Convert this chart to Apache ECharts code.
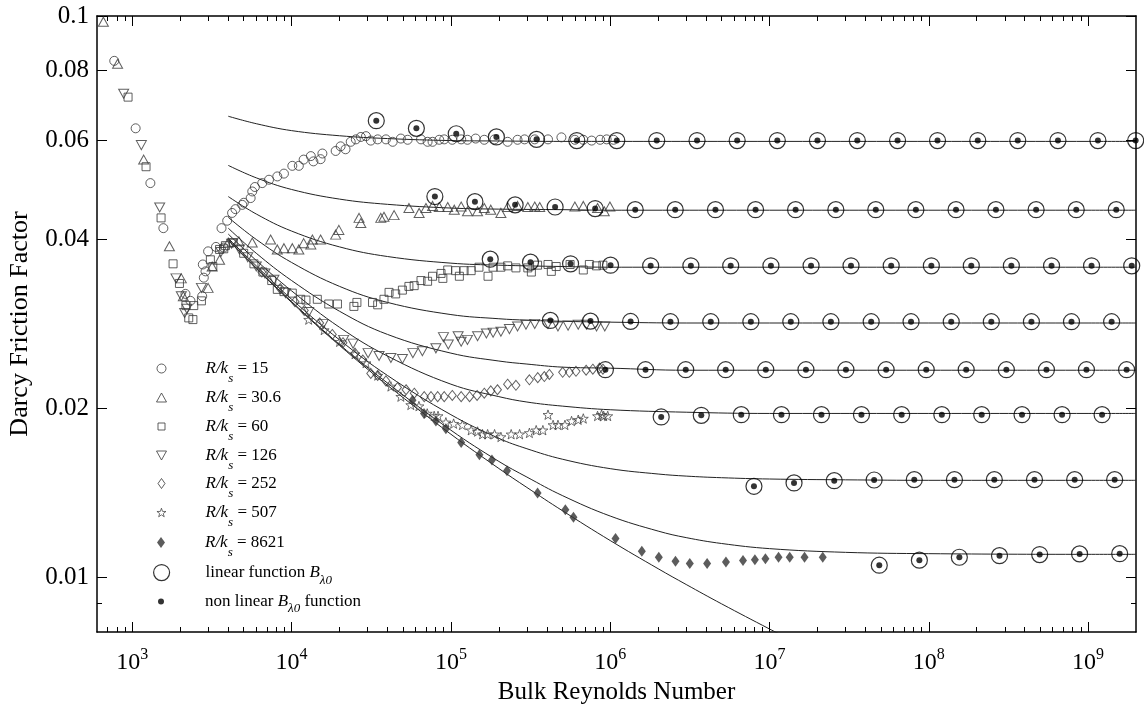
<!DOCTYPE html>
<html>
<head>
<meta charset="utf-8">
<script src="https://cdn.jsdelivr.net/npm/echarts@6/dist/echarts.min.js"></script>
<style>
  html, body { margin: 0; padding: 0; background: #fff; }
  #chart { width: 1144px; height: 706px; }
</style>
</head>
<body>
<div id="chart"></div>
<script>
const FONT = '"Liberation Serif", "Times New Roman", serif';

// ---- axis ticks and labels ----
const reMajorTicks = [1e3, 1e4, 1e5, 1e6, 1e7, 1e8, 1e9];
const reMinorTicks = [700, 800, 900,
  2e3, 3e3, 4e3, 5e3, 6e3, 7e3, 8e3, 9e3,
  2e4, 3e4, 4e4, 5e4, 6e4, 7e4, 8e4, 9e4,
  2e5, 3e5, 4e5, 5e5, 6e5, 7e5, 8e5, 9e5,
  2e6, 3e6, 4e6, 5e6, 6e6, 7e6, 8e6, 9e6,
  2e7, 3e7, 4e7, 5e7, 6e7, 7e7, 8e7, 9e7,
  2e8, 3e8, 4e8, 5e8, 6e8, 7e8, 8e8, 9e8];
const fMajorTicks = [0.01, 0.02, 0.04, 0.06, 0.08, 0.1];
const fMinorTicks = [0.009];

// ---- measured friction factors [Re, f] ----
const rk15 = [[770,0.0832],[1049,0.0631],[1298,0.0504],[1566,0.0419],[2155,0.0320],[2318,0.0311],[2745,0.0317],
  [2810,0.0342],[2880,0.0351],[2770,0.0361],[2990,0.0381],[3350,0.0388],[3750,0.0387],[3630,0.0419],[3940,0.0432],
  [4230,0.0446],[4440,0.0453],[4900,0.0461],[5010,0.0465],[5530,0.0474],[5660,0.0487],[5880,0.0496],[6540,0.0504],
  [7210,0.0511],[8130,0.0518],[8950,0.0524],[10100,0.0541],[11100,0.0541],[11900,0.0555],[13200,0.0563],[13700,0.0551],
  [15200,0.0556],[15600,0.0569],[18900,0.0575],[20300,0.0586],[21800,0.0579],[23500,0.0597],[25300,0.0603],[27200,0.0609],
  [29300,0.0611],[31400,0.0600],[34700,0.0603],[39100,0.0603],[43100,0.0597],[48500,0.0605],[53500,0.0602],[64900,0.0603],
  [71400,0.0597],[76700,0.0597],[84500,0.0602],[90800,0.0603],[102000,0.0602],[116000,0.0603],[127000,0.0602],[143000,0.0605],
  [162000,0.0602],[188000,0.0603],[227000,0.0597],[262000,0.0602],[290000,0.0603],[336000,0.0603],[407000,0.0603],
  [494000,0.0608],[600000,0.0602],[678000,0.0602],[765000,0.0600],[865000,0.0602],[950000,0.0603],[1050000,0.0602]];

const rk30 = [[658,0.0977],[808,0.0822],[1178,0.0555],[1709,0.0389],[2030,0.0341],[2090,0.0317],[2990,0.0328],[3170,0.0358],
  [3530,0.0368],[4000,0.0395],[4663,0.0397],[5660,0.0395],[7380,0.0400],[8130,0.0384],[8950,0.0386],[10100,0.0386],
  [11100,0.0384],[11900,0.0394],[13200,0.0392],[13500,0.0400],[15200,0.0400],[18900,0.0408],[19800,0.0416],[26500,0.0437],
  [27200,0.0428],[36300,0.0437],[38000,0.0439],[44000,0.0442],[54500,0.0455],[63200,0.0446],[69700,0.0455],[76700,0.0459],
  [84500,0.0457],[95500,0.0457],[105000,0.0452],[116000,0.0458],[127000,0.0449],[147000,0.0449],[162000,0.0455],
  [178000,0.0452],[206000,0.0446],[227000,0.0457],[262000,0.0459],[304000,0.0457],[336000,0.0458],[361000,0.0457],
  [600000,0.0458],[678000,0.0459],[833000,0.0455],[918000,0.0449],[996000,0.0458]];

const rk60 = [[940,0.0717],[1219,0.0539],[1515,0.0437],[1802,0.0362],[1976,0.0334],[2170,0.0305],[2430,0.0305],[2260,0.0290],
  [2400,0.0288],[2715,0.0311],[3090,0.0368],[3200,0.0358],[3530,0.0384],[3840,0.0390],[3750,0.0385],[4300,0.0395],
  [5000,0.0378],[5800,0.0362],[6600,0.0350],[7500,0.0338],[8130,0.0326],[8950,0.0323],[10100,0.0321],[11400,0.0313],
  [12300,0.0312],[14500,0.0313],[17100,0.0307],[19400,0.0307],[24600,0.0304],[25700,0.0309],[32200,0.0309],[34700,0.0306],
  [38000,0.0313],[40900,0.0322],[45000,0.0320],[49600,0.0325],[54500,0.0330],[58800,0.0331],[64900,0.0338],[71400,0.0337],
  [76700,0.0344],[86700,0.0348],[89000,0.0341],[95500,0.0353],[107000,0.0352],[113000,0.0344],[121000,0.0352],
  [134000,0.0352],[150000,0.0357],[171000,0.0344],[184000,0.0357],[206000,0.0357],[227000,0.0359],[256000,0.0356],
  [304000,0.0356],[320000,0.0350],[350000,0.0360],[407000,0.0361],[427000,0.0351],[458000,0.0358],[560000,0.0361],
  [678000,0.0353],[740000,0.0361],[820000,0.0359],[900000,0.0360]];

const rk126 = [[882,0.0727],[1139,0.0589],[1485,0.0456],[1880,0.0341],[2030,0.0317],[2130,0.0296],[2200,0.0301],
  [2715,0.0328],[3600,0.0380],[4200,0.0393],[4700,0.0384],[5300,0.0372],[6000,0.0358],[6800,0.0348],[7740,0.0339],
  [9160,0.0321],[12800,0.0297],[15800,0.0283],[21200,0.0265],[24300,0.0261],[30200,0.0251],[35400,0.0248],[42000,0.0246],
  [49600,0.0245],[57700,0.0251],[66200,0.0253],[80500,0.0256],[89800,0.0268],[96300,0.0260],[111000,0.0269],
  [116000,0.0263],[127000,0.0265],[147000,0.0269],[167000,0.0272],[184000,0.0273],[206000,0.0274],[233000,0.0277],
  [262000,0.0280],[296000,0.0282],[336000,0.0283],[407000,0.0283],[470000,0.0280],[544000,0.0281],[630000,0.0282],
  [710000,0.0282],[821000,0.0280],[925000,0.0280]];

const rk252 = [[6500,0.0350],[8500,0.0327],[10500,0.0310],[12000,0.0299],[15000,0.0284],[18000,0.0271],[21000,0.0262],
  [25000,0.0251],[28000,0.0244],[31400,0.0231],[34700,0.0229],[39100,0.0224],[46200,0.0218],[52300,0.0216],[58900,0.0213],
  [68000,0.0210],[75000,0.0210],[82600,0.0210],[90800,0.0210],[102000,0.0211],[116000,0.0210],[131000,0.0210],
  [146000,0.0211],[162000,0.0213],[178000,0.0215],[196000,0.0216],[227000,0.0221],[256000,0.0220],[311000,0.0225],
  [351000,0.0227],[386000,0.0228],[415000,0.0230],[503000,0.0232],[554000,0.0232],[610000,0.0233],[706000,0.0234],
  [778000,0.0235],[857000,0.0236],[900000,0.0235]];

const rk507 = [[12800,0.0288],[16000,0.0276],[20000,0.0263],[25000,0.0250],[29300,0.0241],[34700,0.0229],[42000,0.0219],
  [48500,0.0210],[56000,0.0203],[63000,0.0202],[71000,0.0196],[78500,0.0194],[83000,0.0194],[93000,0.0189],
  [104000,0.0188],[118000,0.0187],[134000,0.0183],[147000,0.0182],[158000,0.0180],[170000,0.0180],[188000,0.0180],
  [206000,0.0178],[239000,0.0180],[270000,0.0180],[311000,0.0181],[343000,0.0183],[378000,0.0183],[407000,0.0195],
  [438000,0.0187],[470000,0.0187],[520000,0.0187],[572000,0.0190],[630000,0.0191],[678000,0.0192],[833000,0.0194],
  [883000,0.0195],[910000,0.0194],[965000,0.0194]];

const rk8621 = [[57400,0.0207],[67800,0.0196],[80500,0.0190],[93000,0.0184],[116000,0.0174],[151000,0.01655],
  [181000,0.0162],[225000,0.0155],[350000,0.01415],[523000,0.0132],[588000,0.0128],[1080000,0.01174],[1580000,0.01114],
  [2020000,0.01087],[2570000,0.01069],[3160000,0.01059],[4060000,0.01059],[5330000,0.01066],[6820000,0.01073],
  [8100000,0.01076],[9430000,0.01080],[11400000,0.01087],[13400000,0.01087],[16600000,0.01087],[21600000,0.01087]];

// ---- B_lambda0 model points [Re, f] ----
const bRow15 = [[34000,0.0651],[60700,0.0631],[108000,0.0617],[193000,0.0609],[345000,0.0603],[617000,0.0600],
  [1100000,0.0600],[1960000,0.0600],[3510000,0.0600],[6270000,0.0600],[11200000,0.0600],[20000000,0.0600],
  [35600000,0.0600],[63700000,0.0600],[113500000,0.0600],[203000000,0.0600],[362000000,0.0600],[647000000,0.0600],
  [1153000000,0.0600],[1990000000,0.0600]];
const bRow30 = [[79300,0.0477],[141500,0.0467],[253000,0.0461],[451000,0.0457],[805000,0.0454],[1436000,0.0452],
  [2560000,0.0452],[4580000,0.0452],[8180000,0.0452],[14590000,0.0452],[26100000,0.0452],[46500000,0.0452],
  [83000000,0.0452],[148300000,0.0452],[264000000,0.0452],[472000000,0.0452],[843000000,0.0452],[1503000000,0.0452]];
const bRow60 = [[176600,0.0369],[316000,0.03645],[564000,0.0362],[1005000,0.0360],[1795000,0.0359],[3210000,0.0359],
  [5710000,0.0359],[10210000,0.0359],[18240000,0.0359],[32500000,0.0359],[58100000,0.0359],[103800000,0.0359],
  [184900000,0.0359],[330000000,0.0359],[590000000,0.0359],[1052000000,0.0359],[1880000000,0.0359]];
const bRow126 = [[421000,0.0287],[752000,0.02862],[1343000,0.02858],[2390000,0.02855],[4280000,0.02855],
  [7640000,0.02855],[13610000,0.02855],[24300000,0.02855],[43500000,0.02855],[77400000,0.02855],[138400000,0.02855],
  [247000000,0.02855],[441000000,0.02855],[787000000,0.02855],[1406000000,0.02855]];
const bRow252 = [[933000,0.02345],[1667000,0.02345],[2980000,0.02345],[5310000,0.02345],[9480000,0.02345],
  [16940000,0.02345],[30200000,0.02345],[54000000,0.02345],[96400000,0.02345],[171800000,0.02345],[307000000,0.02345],
  [548000000,0.02345],[977000000,0.02345],[1746000000,0.02345]];
const bRow507 = [[2090000,0.01932],[3730000,0.01945],[6650000,0.0195],[11890000,0.0195],[21200000,0.0195],
  [37800000,0.0195],[67600000,0.0195],[120800000,0.0195],[215000000,0.0195],[385000000,0.0195],[687000000,0.0195],
  [1225000000,0.0195]];
const bRowA = [[7990000,0.01454],[14260000,0.01474],[25500000,0.01488],[45400000,0.01492],[81100000,0.01494],
  [144900000,0.01494],[258000000,0.01494],[461000000,0.01494],[824000000,0.01494],[1469000000,0.01494]];
const bRowB = [[48900000,0.01052],[87300000,0.01074],[155600000,0.01087],[278000000,0.01094],[497000000,0.01099],
  [885000000,0.01102],[1580000000,0.01103]];

// ---- friction-law curves [Re, f] ----
const curve15 = [[4000,0.0663],[6000,0.0643],[10000,0.0625],[20000,0.0612],[40000,0.0605],[100000,0.0600],
  [200000,0.0599],[500000,0.0598],[1000000,0.0598],[10000000,0.0598],[100000000,0.0598],[1000000000,0.0598],
  [2000000000,0.0598]];
const curve30 = [[4000,0.0542],[6000,0.0515],[10000,0.0491],[20000,0.0472],[40000,0.0462],[100000,0.0455],
  [200000,0.0453],[500000,0.0452],[1000000,0.0451],[10000000,0.0451],[100000000,0.0451],[1000000000,0.0451],
  [2000000000,0.0451]];
const curve60 = [[4000,0.0477],[6000,0.0444],[10000,0.0414],[20000,0.0388],[40000,0.0373],[100000,0.0363],
  [200000,0.0360],[500000,0.0358],[1000000,0.0357],[10000000,0.0357],[100000000,0.0357],[1000000000,0.0357],
  [2000000000,0.0357]];
const curve126 = [[4000,0.0438],[6000,0.0400],[10000,0.0364],[20000,0.0330],[40000,0.0309],[100000,0.0294],
  [200000,0.0289],[300000,0.02873],[500000,0.0286],[1000000,0.0285],[3000000,0.0284],[10000000,0.0284],
  [100000000,0.0284],[1000000000,0.0284],[2000000000,0.0284]];
const curve252 = [[4000,0.0419],[6000,0.0378],[10000,0.0338],[20000,0.0298],[40000,0.0271],[100000,0.0251],
  [200000,0.0243],[300000,0.0240],[500000,0.0237],[1000000,0.0236],[3000000,0.0234],[10000000,0.0234],
  [100000000,0.0234],[1000000000,0.0234],[2000000000,0.0234]];
const curve507 = [[4000,0.0409],[6000,0.0367],[10000,0.0324],[20000,0.0279],[40000,0.0248],[100000,0.0221],
  [200000,0.0210],[300000,0.02054],[500000,0.0202],[1000000,0.0199],[3000000,0.0197],[10000000,0.0196],
  [100000000,0.0196],[1000000000,0.0196],[2000000000,0.0196]];
const curveA = [[4000,0.0402],[6000,0.0359],[10000,0.0313],[20000,0.0265],[40000,0.0229],[100000,0.0195],
  [200000,0.0177],[300000,0.01696],[500000,0.01625],[1000000,0.01563],[2000000,0.01529],[3000000,0.01516],
  [5000000,0.01506],[10000000,0.01498],[30000000,0.01493],[100000000,0.0149],[1000000000,0.0149],[2000000000,0.0149]];
const curveB = [[4000,0.0400],[6000,0.0356],[10000,0.0310],[20000,0.0260],[40000,0.0222],[100000,0.0183],
  [200000,0.0161],[300000,0.0151],[500000,0.0140],[1000000,0.01287],[2000000,0.0121],[3000000,0.01178],
  [5000000,0.0115],[10000000,0.01126],[30000000,0.01109],[100000000,0.01103],[1000000000,0.0110],[2000000000,0.0110]];
const curveSmooth = [[4000,0.0399],[6000,0.0355],[10000,0.0309],[20000,0.0259],[40000,0.0220],[100000,0.0180],
  [200000,0.01564],[300000,0.01447],[500000,0.01316],[1000000,0.01164],[2000000,0.01037],[3000000,0.00972],
  [5000000,0.00898],[10000000,0.0081],[12000000,0.00789]];

const curves = [curve15, curve30, curve60, curve126, curve252, curve507, curveA, curveB, curveSmooth];
const bRows = [].concat(bRow15, bRow30, bRow60, bRow126, bRow252, bRow507, bRowA, bRowB);

const STAR = 'path://M0,-10L2.35,-3.24L9.51,-3.09L3.8,1.24L5.88,8.09L0,4L-5.88,8.09L-3.8,1.24L-9.51,-3.09L-2.35,-3.24Z';
const DOWN_TRI = 'path://M0,0L10,0L5,9Z';
const GREY = '#383838';
const hollow = (c, w) => ({ color: 'rgba(0,0,0,0)', borderColor: c, borderWidth: w });

const X_MIN = 600, X_MAX = 2e9, Y_MIN = 0.008, Y_MAX = 0.1;
const axisLine = { show: true, onZero: false, lineStyle: { color: '#000', width: 1.5 } };

function xAxisDef(grid, pos, major) {
  return {
    type: 'log', logBase: 10, gridIndex: grid, position: pos, min: X_MIN, max: X_MAX,
    axisLine: major ? axisLine : { show: false },
    axisTick: { show: true, inside: true, length: major ? 10 : 5,
      customValues: major ? reMajorTicks : reMinorTicks, lineStyle: { color: '#000', width: 1 } },
    axisLabel: { show: false },
    splitLine: { show: false }, minorTick: { show: false }
  };
}
function yAxisDef(grid, pos, major) {
  return {
    type: 'log', logBase: 10, gridIndex: grid, position: pos, min: Y_MIN, max: Y_MAX,
    axisLine: major ? axisLine : { show: false },
    axisTick: { show: true, inside: true, length: major ? 10 : 5,
      customValues: major ? fMajorTicks : fMinorTicks, lineStyle: { color: '#000', width: 1 } },
    axisLabel: { show: false },
    splitLine: { show: false }, minorTick: { show: false }
  };
}

const xBottom = xAxisDef(0, 'bottom', true);
xBottom.axisLabel = {
  show: true, customValues: reMajorTicks, margin: 15,
  formatter: v => '{b|10}{e|' + Math.round(Math.log10(v)) + '}',
  rich: {
    b: { fontFamily: FONT, fontSize: 24, color: '#000', verticalAlign: 'bottom', lineHeight: 28 },
    e: { fontFamily: FONT, fontSize: 16, color: '#000', verticalAlign: 'top', lineHeight: 28 }
  }
};
xBottom.name = 'Bulk Reynolds Number';
xBottom.nameLocation = 'middle';
xBottom.nameGap = 46;
xBottom.nameTextStyle = { fontFamily: FONT, fontSize: 25, color: '#000' };

const yLeft = yAxisDef(0, 'left', true);
yLeft.axisLabel = {
  show: true, customValues: fMajorTicks, margin: 8,
  formatter: v => String(Number(Number(v).toPrecision(2))),
  fontFamily: FONT, fontSize: 25, color: '#000'
};
yLeft.name = 'Darcy Friction Factor';
yLeft.nameLocation = 'middle';
yLeft.nameGap = 64;
yLeft.nameTextStyle = { fontFamily: FONT, fontSize: 26, color: '#000' };

// ---- series ----
const series = [];
curves.forEach((c, i) => series.push({
  name: 'curve' + i, type: 'line', data: c, xAxisIndex: 0, yAxisIndex: 0,
  showSymbol: false, smooth: 0.4, silent: true, z: 1,
  lineStyle: { color: '#222', width: 1 }
}));

const markerSeries = [
  { name: 'k15', data: rk15, symbol: 'circle', symbolSize: 9, itemStyle: hollow(GREY, 1) },
  { name: 'k30', data: rk30, symbol: 'triangle', symbolSize: [10, 9], itemStyle: hollow(GREY, 1) },
  { name: 'k60', data: rk60, symbol: 'rect', symbolSize: 8, itemStyle: hollow(GREY, 1) },
  { name: 'k126', data: rk126, symbol: DOWN_TRI, symbolSize: [10, 9], itemStyle: hollow(GREY, 1) },
  { name: 'k252', data: rk252, symbol: 'diamond', symbolSize: [8, 10], itemStyle: hollow(GREY, 1) },
  { name: 'k507', data: rk507, symbol: STAR, symbolSize: 10, symbolKeepAspect: true, itemStyle: hollow(GREY, 0.9) },
  { name: 'k8621', data: rk8621, symbol: 'diamond', symbolSize: [8, 11], itemStyle: { color: '#333' } },
  { name: 'lin', data: bRows, symbol: 'circle', symbolSize: 16, itemStyle: hollow('#000', 1.2) },
  { name: 'nonlin', data: bRows, symbol: 'circle', symbolSize: 6, itemStyle: { color: '#000' } }
];
markerSeries.forEach(s => series.push(Object.assign({
  type: 'scatter', xAxisIndex: 0, yAxisIndex: 0, silent: true, z: 3
}, s)));

// ---- legend, one component per row ----
const baseRich = {
  it: { fontFamily: FONT, fontSize: 17, fontStyle: 'italic', color: '#000', verticalAlign: 'middle', lineHeight: 34 },
  n: { fontFamily: FONT, fontSize: 17, color: '#000', verticalAlign: 'middle', lineHeight: 34 },
  sub: { fontFamily: FONT, fontSize: 13, fontStyle: 'italic', color: '#000', verticalAlign: 'bottom', lineHeight: 34 },
  sub2: { fontFamily: FONT, fontSize: 13, fontStyle: 'italic', color: '#000', verticalAlign: 'bottom', lineHeight: 34, padding: [0, 0, 3, 0] }
};
const legendRows = [
  { name: 'k15', cy: 368, w: 9, h: 9, text: '{it|R/k}{sub|s}{n| = 15}', bw: 1 },
  { name: 'k30', cy: 397, w: 10, h: 9, text: '{it|R/k}{sub|s}{n| = 30.6}', bw: 1 },
  { name: 'k60', cy: 426, w: 7, h: 7, text: '{it|R/k}{sub|s}{n| = 60}', bw: 1 },
  { name: 'k126', cy: 455, w: 10, h: 9, text: '{it|R/k}{sub|s}{n| = 126}', bw: 1 },
  { name: 'k252', cy: 483, w: 7, h: 10, text: '{it|R/k}{sub|s}{n| = 252}', bw: 1 },
  { name: 'k507', cy: 512, w: 9, h: 9, text: '{it|R/k}{sub|s}{n| = 507}', bw: 0.9 },
  { name: 'k8621', cy: 542, w: 8, h: 11, text: '{it|R/k}{sub|s}{n| = 8621}', bw: 0 },
  { name: 'lin', cy: 572, w: 16, h: 16, text: '{n|linear function }{it|B}{sub2|λ0}', bw: 1.2 },
  { name: 'nonlin', cy: 601, w: 6, h: 6, text: '{n|non linear }{it|B}{sub2|λ0}{n| function}', bw: 0 }
];
const LEGEND_SHIFT = 9;
const legends = legendRows.map(r => {
  const pad = 39 - r.w / 2;
  const rich = Object.assign({ sp: { width: pad, fontSize: 10, lineHeight: 34 } }, baseRich);
  return {
    data: [r.name], orient: 'vertical', left: 161 - r.w / 2, top: r.cy - 17 + LEGEND_SHIFT,
    itemWidth: r.w, itemHeight: r.h, padding: 0, selectedMode: false,
    itemStyle: { borderWidth: r.bw },
    formatter: () => '{sp| }' + r.text,
    textStyle: { rich: rich }
  };
});

const option = {
  animation: false,
  backgroundColor: '#fff',
  grid: [
    { left: 97, right: 8, top: 16, bottom: 74, outerBoundsMode: 'none', containLabel: false },
    { left: 97, right: 8, top: 16, bottom: 74, outerBoundsMode: 'none', containLabel: false }
  ],
  xAxis: [xBottom, xAxisDef(0, 'top', true), xAxisDef(1, 'bottom', false), xAxisDef(1, 'top', false)],
  yAxis: [yLeft, yAxisDef(0, 'right', true), yAxisDef(1, 'left', false), yAxisDef(1, 'right', false)],
  legend: legends,
  series: series
};

const chart = echarts.init(document.getElementById('chart'), null, { renderer: 'canvas' });
chart.setOption(option);
</script>
</body>
</html>
